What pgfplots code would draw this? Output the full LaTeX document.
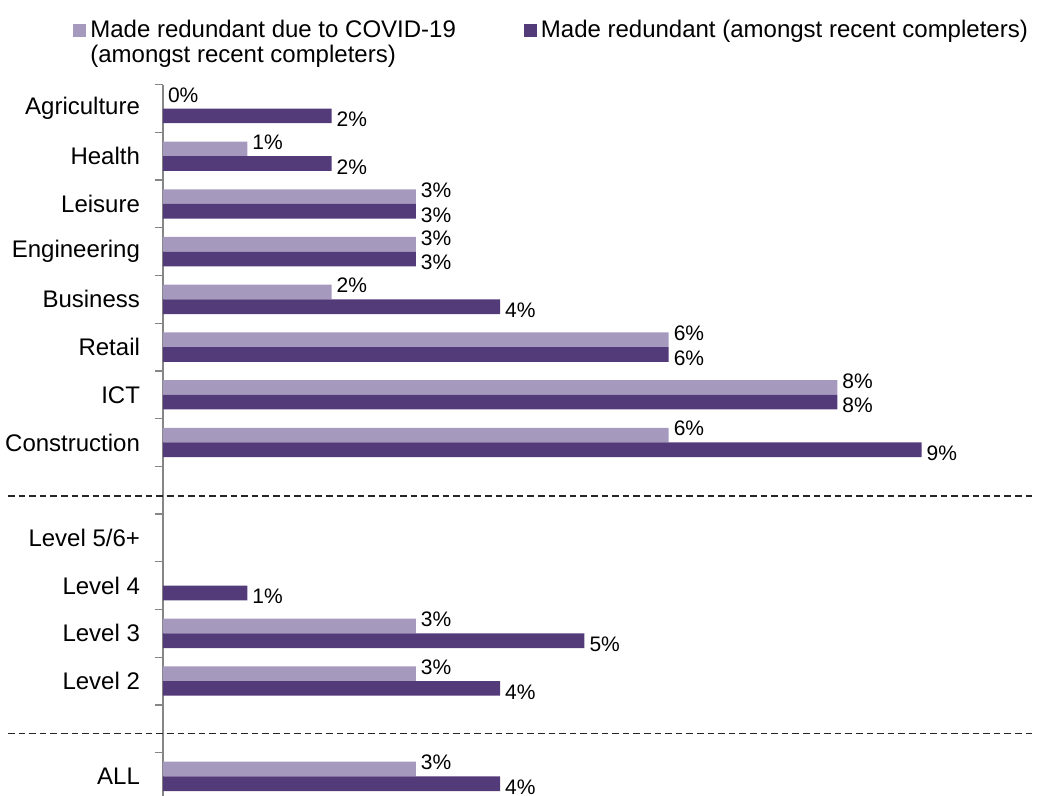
\documentclass[border=0pt]{standalone}
\usepackage{fontspec}
\setmainfont{Liberation Sans}
\usepackage{pgfplots}
\pgfplotsset{compat=1.18}
\definecolor{covid}{RGB}{165,154,190}
\definecolor{redund}{RGB}{83,59,122}
\definecolor{axisgray}{RGB}{134,134,134}

\begin{document}
\begin{tikzpicture}[font=\fontsize{12}{12.5}\selectfont]
\begin{axis}[
    at={(0,0)}, anchor=south west,
    scale only axis, width=434.5pt, height=355.65pt,
    xbar, bar width=7.35pt,
    xmin=0, xmax=10.31, ymin=-0.41, ymax=14.5,
    hide x axis,
    axis y line*=left,
    y axis line style={axisgray, line width=0.65pt},
    ytick={0,2,3,4,5,7,8,9,10,11,12,13,14},
    yticklabels={ALL,Level 2,Level 3,Level 4,Level 5/6+,Construction,ICT,Retail,Business,Engineering,Leisure,Health,Agriculture},
    major tick length=0pt,
    minor ytick={0.5,1.5,...,14.5},
    minor tick length=4pt,
    ytick align=outside,
    minor tick style={axisgray, line width=0.65pt},
    yticklabel style={xshift=-8pt, text=black},
    point meta=x,
    nodes near coords={\pgfmathprintnumber{\pgfplotspointmeta}\%},
    nodes near coords style={text=black, anchor=west, xshift=-1pt,
        font=\fontsize{10.5}{12}\selectfont},
    /pgf/number format/assume math mode=true,
    clip=false,
    legend style={at={(-0.1036,1.0973)}, anchor=north west, draw=none, fill=none,
        inner sep=0pt, legend columns=2,
        cells={anchor=base west, inner xsep=1.5pt, inner ysep=0pt},
        /tikz/every even column/.append style={column sep=32pt}},
    legend image code/.code={\fill[#1, draw=none] (0pt,0pt) rectangle (6.5pt,6.5pt);},
]
\addplot[fill=covid, draw=none, bar shift=3.675pt,
    every node near coord/.append style={yshift=3.2pt}] coordinates {
  (0,14) (1,13) (3,12) (3,11) (2,10) (6,9) (8,8) (6,7)
  (3,3) (3,2) (3,0)
};
\addlegendentry{\begin{tabular}[t]{@{}l@{}}Made redundant due to COVID-19\\(amongst recent completers)\end{tabular}}
\addplot[fill=redund, draw=none, bar shift=-3.675pt,
    every node near coord/.append style={yshift=-1.8pt}] coordinates {
  (2,14) (2,13) (3,12) (3,11) (4,10) (6,9) (8,8) (9,7)
  (1,4) (5,3) (4,2) (4,0)
};
\addlegendentry{Made redundant (amongst recent completers)}
\draw[black!85, line width=0.75pt, dash pattern=on 3.3pt off 2pt] (axis cs:-1.84,5.88) -- (axis cs:10.31,5.88);
\draw[black!85, line width=0.75pt, dash pattern=on 3.3pt off 2pt] (axis cs:-1.84,0.9) -- (axis cs:10.31,0.9);
\end{axis}
\pgfresetboundingbox
\path[use as bounding box] (-81.5pt,0pt) rectangle (440.5pt,398pt);
\end{tikzpicture}
\end{document}
